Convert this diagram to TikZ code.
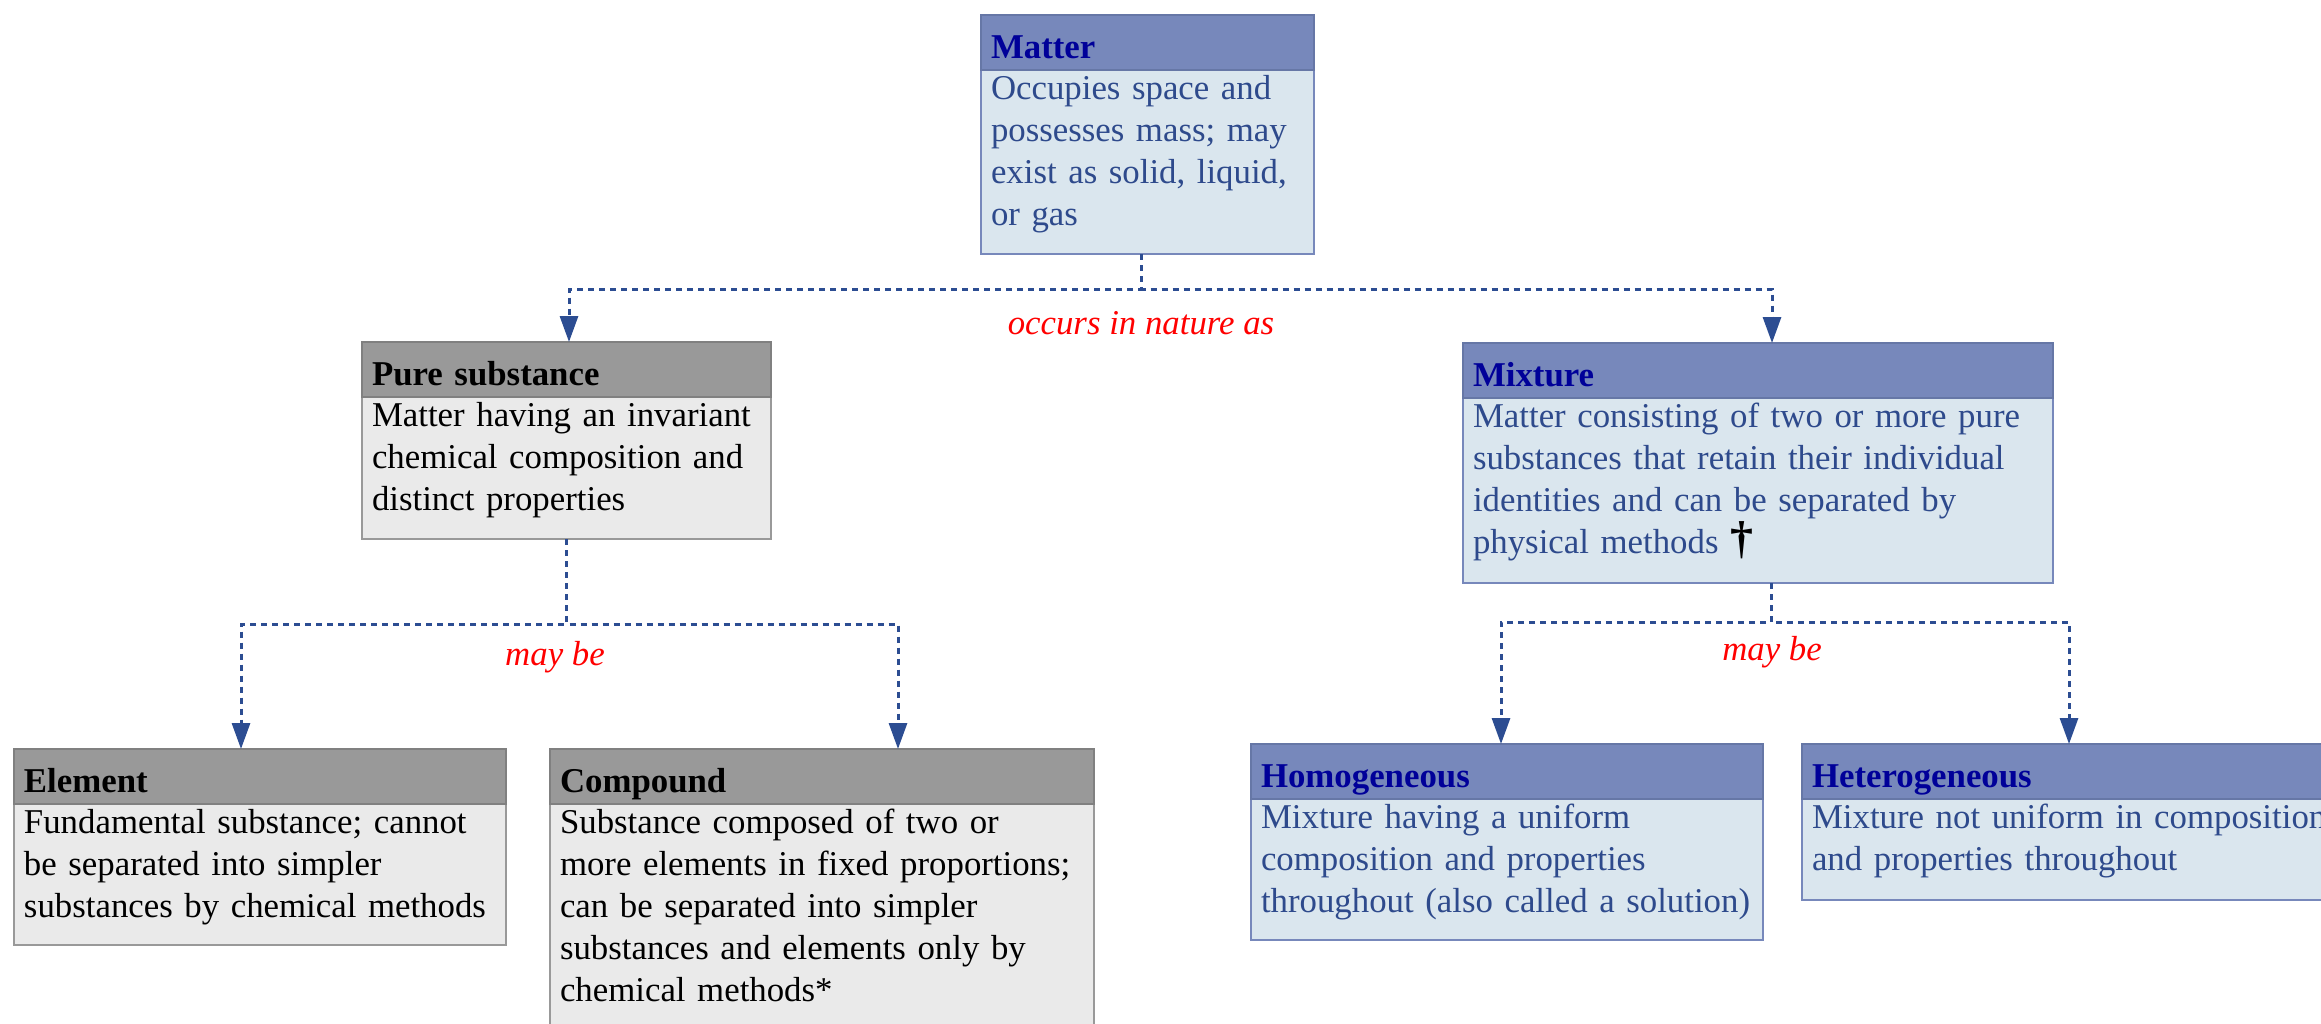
\documentclass[tikz,border=0pt]{standalone}
\usepackage{fontspec}
\setmainfont{Liberation Serif}
\usetikzlibrary{arrows.meta}

\definecolor{headblue}{RGB}{119,136,187}
\definecolor{headblueline}{RGB}{102,119,166}
\definecolor{bodyblue}{RGB}{218,230,238}
\definecolor{titleblue}{RGB}{0,0,153}
\definecolor{textblue}{RGB}{46,74,140}
\definecolor{headgray}{RGB}{153,153,153}
\definecolor{headgrayline}{RGB}{128,128,128}
\definecolor{bodygray}{RGB}{234,234,234}
\definecolor{linkblue}{RGB}{44,77,146}

\hyphenpenalty=10000
\exhyphenpenalty=10000

\begin{document}
\begin{tikzpicture}[x=0.5pt, y=-0.5pt]
  \tikzstyle{box}=[anchor=north west, line width=1.4pt, outer sep=0pt, inner xsep=5pt, inner ysep=0pt, align=left]
  \tikzstyle{head}=[box, font=\fontsize{17.4pt}{21pt}\selectfont\bfseries, text height=21.5pt, text depth=6pt]
  \tikzstyle{body}=[box, font=\fontsize{17.4pt}{21pt}\selectfont, text height=14.5pt]
  \tikzstyle{bluehead}=[head, draw=headblueline, fill=headblue, text=titleblue]
  \tikzstyle{bluebody}=[body, draw=headblue, fill=bodyblue, text=textblue]
  \tikzstyle{grayhead}=[head, draw=headgrayline, fill=headgray, text=black]
  \tikzstyle{graybody}=[body, draw=headgray, fill=bodygray, text=black]
  \tikzstyle{link}=[draw=linkblue, line width=1.5pt, dash pattern=on 3pt off 2.5pt, -{Triangle[length=13pt, width=9pt]}]
  \tikzstyle{lab}=[text=red, font=\fontsize{17.4pt}{21pt}\selectfont\itshape]

\useasboundingbox (0,0) rectangle (2321,1023);

% matter
\node[bluebody, text width=156.5pt, text depth=77.5pt] (mb) at (981, 70)
  {Occupies space and\\possesses mass; may\\exist as solid, liquid,\\or gas};
\node[bluehead, text width=156.5pt] (mh) at (981, 15) {Matter};

% pure substance
\node[graybody, text width=194.5pt, text depth=56.5pt] (pb) at (362, 397)
  {Matter having an invariant\\chemical composition and\\distinct properties};
\node[grayhead, text width=194.5pt] (ph) at (362, 342) {Pure substance};

% mixture
\node[bluebody, text width=285pt, text depth=78pt] (xb) at (1463, 398)
  {Matter consisting of two or more pure\\substances that retain their individual\\identities and can be separated by\\physical methods {\color{black}\fontsize{23pt}{21pt}\selectfont\bfseries †}};
\node[bluehead, text width=285pt] (xh) at (1463, 343) {Mixture};

% element
\node[graybody, text width=236pt, text depth=56pt] (eb) at (14, 804)
  {Fundamental substance; cannot\\be separated into simpler\\substances by chemical methods};
\node[grayhead, text width=236pt] (eh) at (14, 749) {Element};

% compound
\node[graybody, text width=262pt, text depth=107.5pt] (cb) at (550, 804)
  {Substance composed of two or\\more elements in fixed proportions;\\can be separated into simpler\\substances and elements only by\\chemical methods*};
\node[grayhead, text width=262pt] (ch) at (550, 749) {Compound};

% homogeneous
\node[bluebody, text width=246pt, text depth=56pt] (hb) at (1251, 799)
  {Mixture having a uniform\\composition and properties\\throughout (also called a solution)};
\node[bluehead, text width=246pt] (hh) at (1251, 744) {Homogeneous};

% heterogeneous
\node[bluebody, text width=290pt, text depth=36pt] (tb) at (1802, 799)
  {Mixture not uniform in composition\\and properties throughout};
\node[bluehead, text width=290pt] (th) at (1802, 744) {Heterogeneous};

% connectors
\coordinate (j1) at (569, 289);
\coordinate (j2) at (1772, 289);
\draw[link] ([xshift=-3pt]mb.south) |- (j1) -- (j1 |- ph.north);
\draw[link] ([xshift=-3pt]mb.south) |- (j2) -- (j2 |- xh.north);
\node[lab] (l1) at (1141, 323) {occurs in nature as};

\coordinate (j3) at (241, 624);
\coordinate (j4) at (898, 624);
\draw[link] (pb.south) |- (j3) -- (j3 |- eh.north);
\draw[link] (pb.south) |- (j4) -- (j4 |- ch.north);
\node[lab] (l2) at (555, 657) {may be};

\coordinate (j5) at (1501, 622);
\coordinate (j6) at (2069, 622);
\draw[link] ([xshift=6.5pt]xb.south) |- (j5) -- (j5 |- hh.north);
\draw[link] ([xshift=6.5pt]xb.south) |- (j6) -- (j6 |- th.north);
\node[lab] (l3) at (1772, 652) {may be};

\end{tikzpicture}
\end{document}
